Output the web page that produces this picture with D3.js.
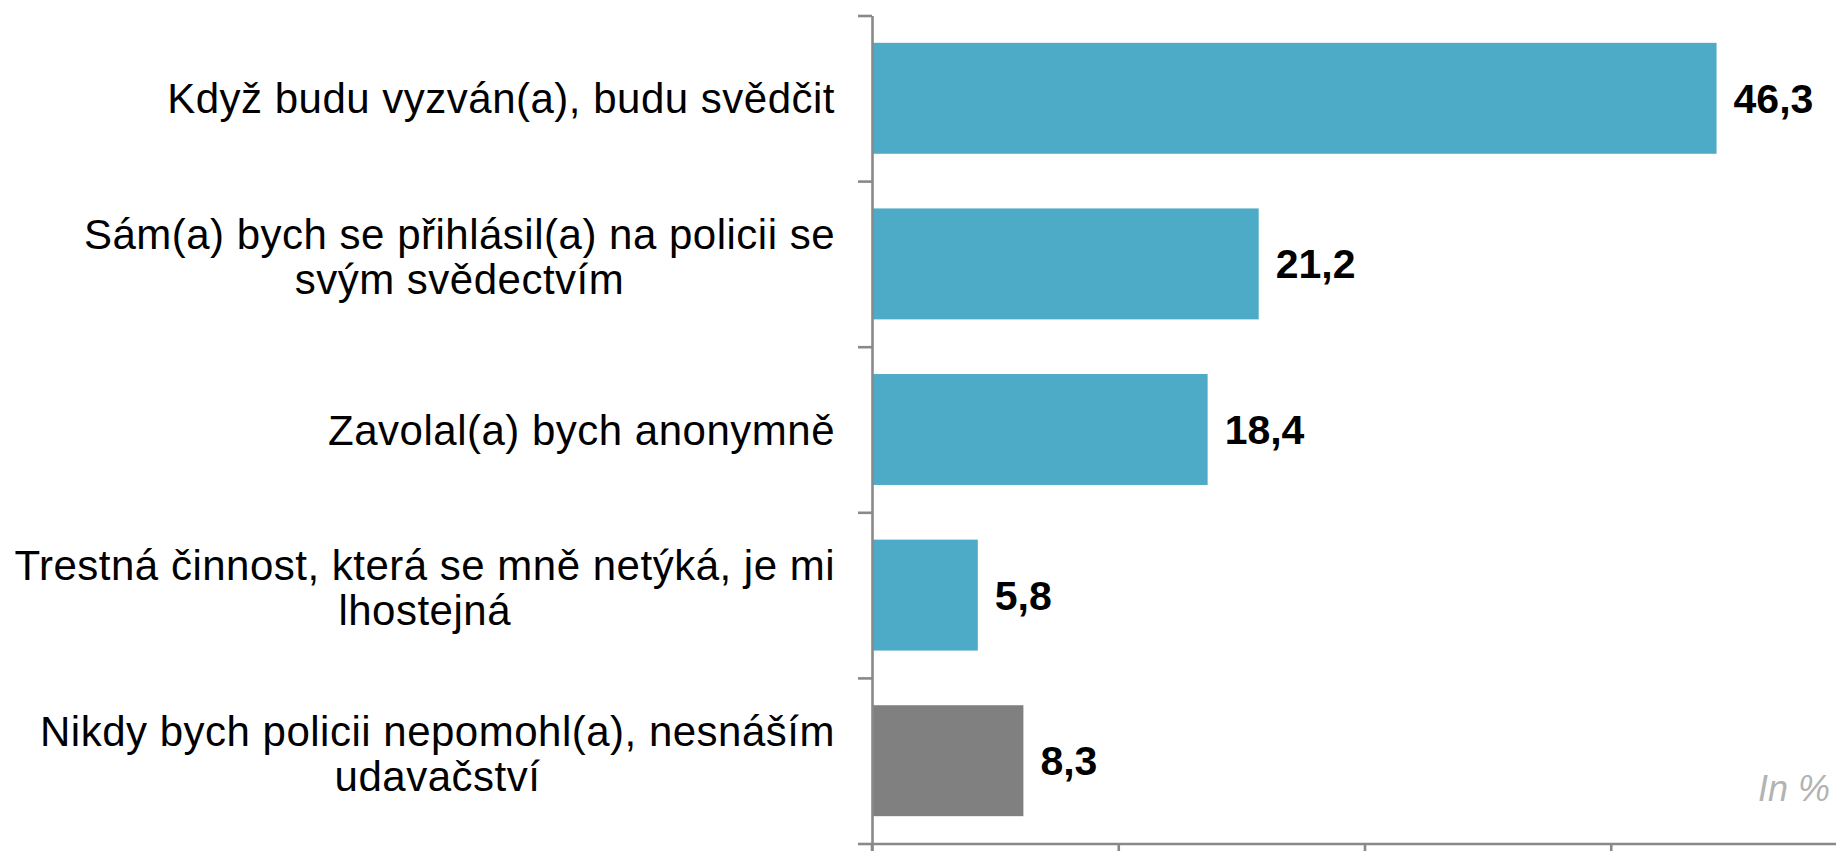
<!DOCTYPE html>
<html>
<head>
<meta charset="utf-8">
<script src="https://cdn.jsdelivr.net/npm/d3@7"></script>
<style>
  body { margin: 0; background: #fff; }
  svg { display: block; }
</style>
</head>
<body>
<div id="chart"></div>
<script>
// Data
var categories = [
    "Když budu vyzván(a), budu svědčit",
    "Sám(a) bych se přihlásil(a) na policii se\nsvým svědectvím",
    "Zavolal(a) bych anonymně",
    "Trestná činnost, která se mně netýká, je mi\nlhostejná",
    "Nikdy bych policii nepomohl(a), nesnáším\nudavačství"
];
var values = [46.3, 21.2, 18.4, 5.8, 8.3];
var valueLabels = ["46,3", "21,2", "18,4", "5,8", "8,3"];
var barColors = ["#4eabc7", "#4eabc7", "#4eabc7", "#4eabc7", "#808080"];
var xTicks = [0, 13.5, 27, 40.5, 54];
var unitNote = "In %";

//Set the dimensions for the SVG container
var svgWidth = 1836;
var svgHeight = 851;
var axisColor = "#898989";

var margin = { top: 15.5, right: -21, bottom: 7.5, left: 872 };
var width = svgWidth - margin.left - margin.right;
var height = svgHeight - margin.top - margin.bottom;

var svg = d3.select("#chart")
    .append("svg")
    .attr("width", svgWidth)
    .attr("height", svgHeight);

var chartGroup = svg.append("g")
    .attr("transform", `translate(${margin.left}, ${margin.top})`);

// scales
var xScale = d3.scaleLinear()
    .domain([0, d3.max(xTicks)])
    .range([0, width]);

var yScale = d3.scaleBand()
    .domain(categories)
    .range([0, height])
    .paddingInner(0.33)
    .paddingOuter(0.165);

// category boundaries for the left axis ticks
var yEdge = d3.scaleLinear()
    .domain([0, categories.length])
    .range([0, height]);

// bars
chartGroup.selectAll("rect.bar")
    .data(values)
    .enter()
    .append("rect")
    .attr("class", "bar")
    .attr("x", 0)
    .attr("y", (d, i) => yScale(categories[i]))
    .attr("width", d => xScale(d))
    .attr("height", yScale.bandwidth())
    .attr("fill", (d, i) => barColors[i]);

// bottom axis
var bottomAxis = d3.axisBottom(xScale)
    .tickValues(xTicks)
    .tickSize(12)
    .tickSizeOuter(0)
    .tickFormat("");

var xAxisG = chartGroup.append("g")
    .attr("transform", `translate(0, ${height})`)
    .call(bottomAxis);

// left axis
var leftAxis = d3.axisLeft(yEdge)
    .ticks(categories.length)
    .tickSize(14)
    .tickSizeOuter(0)
    .tickFormat("");

var yAxisG = chartGroup.append("g")
    .call(leftAxis);

// the vertical line runs on past the bottom axis
yAxisG.append("line")
    .attr("x1", 0).attr("x2", 0)
    .attr("y1", height).attr("y2", height + margin.bottom + 2);

[xAxisG, yAxisG].forEach(function(g) {
    g.selectAll("path.domain").attr("stroke", axisColor).attr("stroke-width", 2.6);
    g.selectAll("line").attr("stroke", axisColor).attr("stroke-width", 2.6);
});

// category labels (centred block, longest line ends near the axis)
var labelGroup = chartGroup.append("g")
    .style("font-family", "'Liberation Sans', Arial, sans-serif")
    .style("font-size", "42px")
    .style("letter-spacing", "0.5px")
    .attr("fill", "#000");

categories.forEach(function(cat, i) {
    var lines = cat.split("\n");
    var cy = yScale(cat) + yScale.bandwidth() / 2;
    if (lines.length === 1) {
        labelGroup.append("text")
            .attr("x", -37)
            .attr("y", cy + 15)
            .attr("text-anchor", "end")
            .text(lines[0]);
    } else {
        var first = labelGroup.append("text")
            .attr("x", -37)
            .attr("y", cy - 15)
            .attr("text-anchor", "end")
            .text(lines[0]);
        var bb = first.node().getBBox();
        labelGroup.append("text")
            .attr("x", bb.x + bb.width / 2)
            .attr("y", cy + 30)
            .attr("text-anchor", "middle")
            .text(lines[1]);
    }
});

// value labels
chartGroup.selectAll("text.value")
    .data(values)
    .enter()
    .append("text")
    .attr("class", "value")
    .attr("x", d => xScale(d) + 17)
    .attr("y", (d, i) => yScale(categories[i]) + yScale.bandwidth() / 2 + 14.5)
    .style("font-family", "'Liberation Sans', Arial, sans-serif")
    .style("font-size", "41px")
    .style("font-weight", "bold")
    .attr("fill", "#000")
    .text((d, i) => valueLabels[i]);

// unit note
svg.append("text")
    .attr("x", 1830)
    .attr("y", 801)
    .attr("text-anchor", "end")
    .style("font-family", "'Liberation Sans', Arial, sans-serif")
    .style("font-size", "36px")
    .style("font-style", "italic")
    .attr("fill", "#b3b3b3")
    .text(unitNote);
</script>
</body>
</html>
